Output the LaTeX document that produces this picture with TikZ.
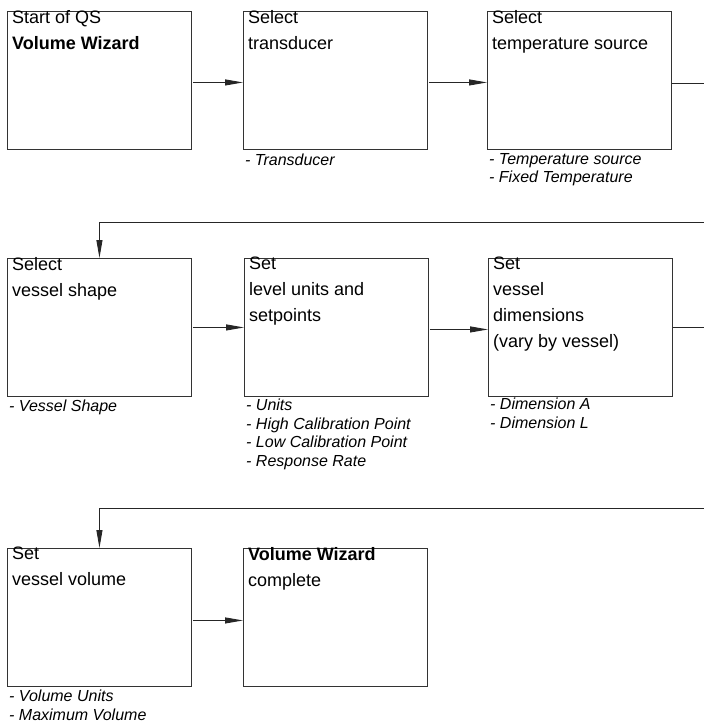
\documentclass[tikz,border=0pt]{standalone}
\usepackage{fontspec}
\setmainfont{Liberation Sans}
\usetikzlibrary{arrows.meta}
\begin{document}
\begin{tikzpicture}[x=1pt,y=-1pt,
  box/.style={draw=black!80, line width=0.9pt, minimum width=184pt, minimum height=138pt, inner sep=0pt, anchor=north west},
  head/.style={anchor=north west, align=left, inner sep=0pt, font=\fontsize{18}{26}\selectfont, execute at begin node={\rule{0pt}{18pt}}},
  param/.style={anchor=north west, align=left, inner sep=0pt, font=\fontsize{16}{18.5}\selectfont\itshape, execute at begin node={\rule{0pt}{13pt}}},
  flow/.style={line width=0.9pt, draw=black!85, -{Triangle[length=18pt,width=6pt]}},
  link/.style={line width=0.9pt, draw=black!85}]
\useasboundingbox (0,0) rectangle (704,723);
\fill[white] (0,0) rectangle (704,723);
% boxes
\node[box] (b1) at (7,11) {};
\node[box] (b2) at (243,11) {};
\node[box] (b3) at (487,11) {};
\node[box] (b4) at (7,258) {};
\node[box] (b5) at (244,258) {};
\node[box] (b6) at (488,258) {};
\node[box] (b7) at (7,548) {};
\node[box] (b8) at (243,548) {};
% headings
\node[head] (t1) at ([shift={(5,-1)}]b1.north west) {Start of QS\\\textbf{Volume Wizard}};
\node[head] (t2) at ([shift={(5,-1)}]b2.north west) {Select\\transducer};
\node[head] (t3) at ([shift={(5,-1)}]b3.north west) {Select\\temperature source};
\node[head] (t4) at ([shift={(5,-1)}]b4.north west) {Select\\vessel shape};
\node[head] (t5) at ([shift={(5,-1)}]b5.north west) {Set\\level units and\\setpoints};
\node[head] (t6) at ([shift={(5,-1)}]b6.north west) {Set\\vessel\\dimensions\\(vary by vessel)};
\node[head] (t7) at ([shift={(5,-1)}]b7.north west) {Set\\vessel volume};
\node[head] (t8) at ([shift={(5,-1)}]b8.north west) {\textbf{Volume Wizard}\\complete};
% parameters
\node[param] (p2) at ([shift={(2,2)}]b2.south west) {- Transducer};
\node[param] (p3) at ([shift={(2,3)}]b3.south west) {- Temperature source\\- Fixed Temperature};
\node[param] (p4) at ([shift={(2,1)}]b4.south west) {- Vessel Shape};
\node[param] (p5) at ([shift={(2,2)}]b5.south west) {- Units\\- High Calibration Point\\- Low Calibration Point\\- Response Rate};
\node[param] (p6) at ([shift={(2,1)}]b6.south west) {- Dimension A\\- Dimension L};
\node[param] (p7) at ([shift={(2,3)}]b7.south west) {- Volume Units\\- Maximum Volume};
% connectors
\draw[flow] ([shift={(1,2)}]b1.east) -- ([shift={(0,2)}]b2.west);
\draw[flow] ([shift={(1,2)}]b2.east) -- ([shift={(0,2)}]b3.west);
\coordinate (e1) at (704,83);
\draw[link] (b3.east |- e1) -- (e1);
\coordinate (s2) at (704,222);
\draw[flow] (s2) -- (b4.north |- s2) -- (b4.north);
\draw[flow] ([shift={(1,0)}]b4.east) -- (b5.west);
\draw[flow] ([shift={(1,2)}]b5.east) -- ([shift={(0,2)}]b6.west);
\coordinate (e2) at (704,327);
\draw[link] (b6.east |- e2) -- (e2);
\coordinate (s3) at (704,508);
\draw[flow] (s3) -- (b7.north |- s3) -- (b7.north);
\draw[flow] ([shift={(1,3)}]b7.east) -- ([shift={(0,3)}]b8.west);
\end{tikzpicture}
\end{document}
